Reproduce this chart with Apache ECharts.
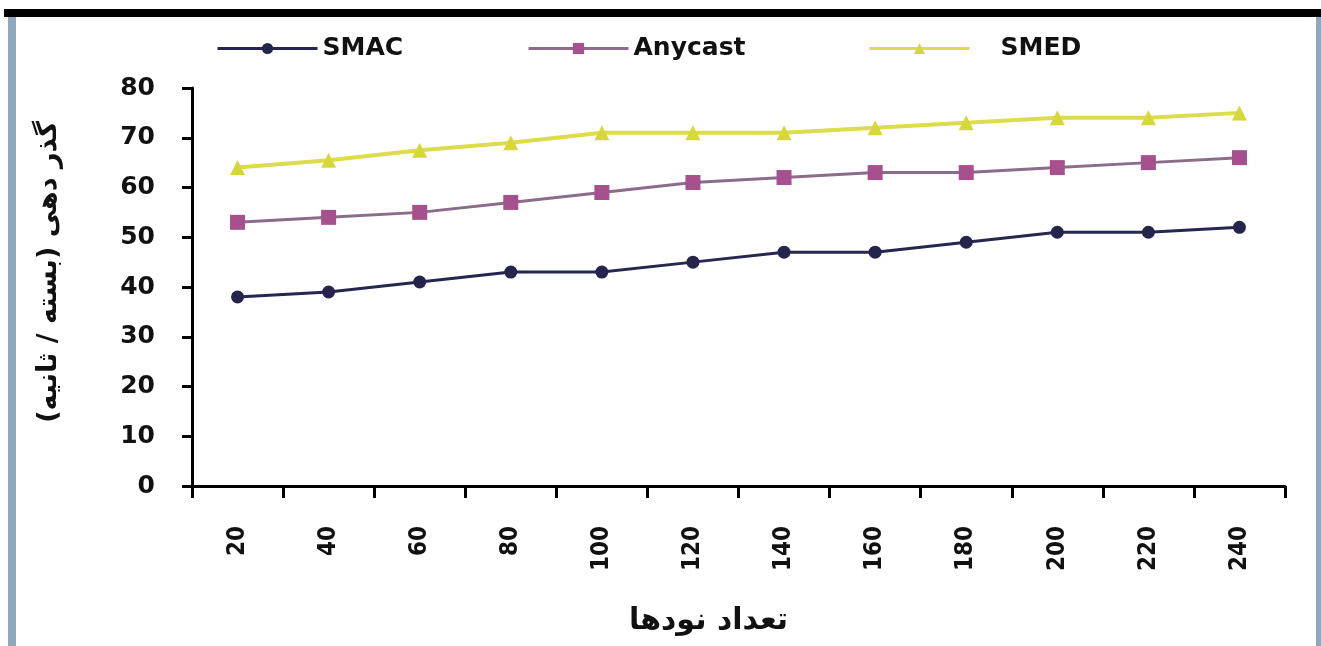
<!DOCTYPE html>
<html>
<head>
<meta charset="utf-8">
<title>throughput</title>
<script src="https://cdn.jsdelivr.net/npm/echarts@6/dist/echarts.min.js"></script>
<style>
  html, body { margin: 0; padding: 0; background: #fff; }
  #frame { position: absolute; left: 0; top: 0; width: 1321px; height: 646px; overflow: hidden; }
  #topbar { position: absolute; left: 4px; top: 9px; width: 1317px; height: 8px; background: #000; }
  #lbar { position: absolute; left: 8px; top: 17px; width: 8px; height: 629px; background: #8fa8bd; }
  #rbar { position: absolute; left: 1316px; top: 17px; width: 5px; height: 629px; background: #8fa8bd; }
  #main { position: absolute; left: 0; top: 0; width: 1321px; height: 646px; }
</style>
</head>
<body>
<div id="frame">
  <div id="main"></div>
  <div id="topbar"></div>
  <div id="lbar"></div>
  <div id="rbar"></div>
</div>
<script>
// x: number of nodes
const nodes = ['20','40','60','80','100','120','140','160','180','200','220','240'];
// throughput, packets / second
const smac    = [38, 39, 41, 43, 43, 45, 47, 47, 49, 51, 51, 52];
const anycast = [53, 54, 55, 57, 59, 61, 62, 63, 63, 64, 65, 66];
const smed    = [64, 65.5, 67.5, 69, 71, 71, 71, 72, 73, 74, 74, 75];

const yTitle = 'گذر دهی (بسته / ثانیه)';
const xTitle = 'تعداد نودها';

const chart = echarts.init(document.getElementById('main'), null, { renderer: 'canvas' });

const legendText = { fontFamily: 'DejaVu Sans', fontWeight: 'bold', fontSize: 25, color: '#111' };
function legendAt(name, left, top, extra){
  return Object.assign({
    data: [name], left: left, top: top, orient: 'horizontal',
    itemWidth: 100, itemHeight: 14, itemGap: 0, padding: 0,
    lineStyle: { width: 3 },
    textStyle: Object.assign({}, legendText), selectedMode: false
  }, extra || {});
}

const axisCol = '#000';

chart.setOption({
  animation: false,
  backgroundColor: 'transparent',
  legend: [
    legendAt('SMAC', 216, 36),
    legendAt('Anycast', 527, 36),
    legendAt('SMED', 868, 36, { textStyle: Object.assign({}, legendText, { padding: [0, 0, 14, 26] }) })
  ],
  grid: { left: 192, right: 36, top: 88, bottom: 160, containLabel: false },
  xAxis: {
    type: 'category',
    data: nodes,
    boundaryGap: true,
    axisLine: { lineStyle: { color: axisCol, width: 3 } },
    axisTick: { show: true, length: 12, inside: false, alignWithLabel: false, lineStyle: { color: axisCol, width: 3 } },
    axisLabel: {
      rotate: 90, margin: 40, color: '#111',
      fontFamily: 'DejaVu Sans Condensed, DejaVu Sans', fontWeight: 'bold', fontSize: 24
    },
    name: xTitle,
    nameLocation: 'middle',
    nameGap: 120,
    nameTextStyle: { fontFamily: 'DejaVu Sans', fontWeight: 'bold', fontSize: 30, color: '#111', padding: [0, 60, 0, 0] }
  },
  yAxis: {
    type: 'value',
    min: 0, max: 80, interval: 10,
    splitLine: { show: false },
    axisLine: { show: true, lineStyle: { color: axisCol, width: 3 } },
    axisTick: { show: true, length: 10, lineStyle: { color: axisCol, width: 3 } },
    axisLabel: { margin: 37, color: '#111', fontFamily: 'DejaVu Sans', fontWeight: 'bold', fontSize: 25 },
    name: yTitle,
    nameLocation: 'middle',
    nameRotate: 90,
    nameGap: 130,
    nameTextStyle: { fontFamily: 'DejaVu Sans', fontWeight: 'bold', fontSize: 27, color: '#111', padding: [0, 0, 0, 30] }
  },
  series: [
    {
      name: 'SMAC', type: 'line', data: smac,
      symbol: 'circle', symbolSize: 13,
      lineStyle: { color: '#26264f', width: 3 },
      itemStyle: { color: '#24244c' }
    },
    {
      name: 'Anycast', type: 'line', data: anycast,
      symbol: 'rect', symbolSize: 15,
      lineStyle: { color: '#8b6c8a', width: 3 },
      itemStyle: { color: '#a6508e' }
    },
    {
      name: 'SMED', type: 'line', data: smed,
      symbol: 'triangle', symbolSize: 15,
      lineStyle: { color: '#dcdc4c', width: 4 },
      itemStyle: { color: '#d6d83a' }
    }
  ]
});
</script>
</body>
</html>
